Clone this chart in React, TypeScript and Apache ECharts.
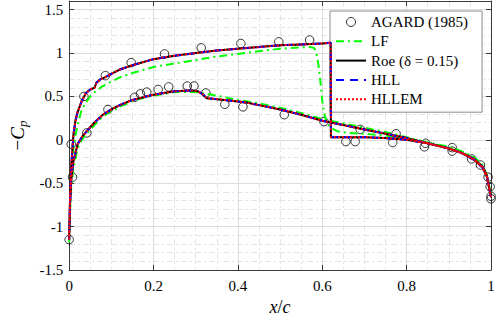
import React, { useEffect, useRef } from "react";
import * as echarts from "echarts";

// ---------- data ----------
// AGARD (1985) experimental points [x/c, -Cp]
const agardPoints: number[][] = [
  [0, -1.15], [0.008, -0.43], [0.005, -0.05], [0.035, 0.5], [0.086, 0.74],
  [0.147, 0.89], [0.226, 0.99], [0.313, 1.06], [0.407, 1.11], [0.497, 1.13],
  [0.57, 1.15],
  [0.042, 0.08], [0.092, 0.35], [0.155, 0.49], [0.169, 0.53], [0.184, 0.55],
  [0.211, 0.58], [0.236, 0.61], [0.28, 0.62], [0.296, 0.62], [0.324, 0.54],
  [0.369, 0.41], [0.412, 0.38], [0.51, 0.29], [0.604, 0.21], [0.69, 0.12],
  [0.775, 0.07], [0.845, -0.04], [0.908, -0.09],
  [0.656, -0.02], [0.678, -0.02], [0.767, -0.03], [0.842, -0.08], [0.908, -0.13],
  [0.954, -0.22], [0.975, -0.29], [0.993, -0.43], [0.998, -0.54], [1.0, -0.65],
  [1.0, -0.68],
];

// Roe (δ = 0.15) – upper surface, leading edge to trailing edge
const roeUpper: number[][] = [
  [0, -1.15], [0.002, -0.7], [0.005, -0.3], [0.01, 0.05], [0.015, 0.22],
  [0.02, 0.32], [0.03, 0.45], [0.04, 0.54], [0.05, 0.58], [0.06, 0.6],
  [0.065, 0.66], [0.075, 0.7], [0.085, 0.72], [0.1, 0.76], [0.12, 0.81],
  [0.15, 0.86], [0.2, 0.93], [0.25, 0.97], [0.3, 1.0], [0.35, 1.03],
  [0.4, 1.05], [0.45, 1.07], [0.5, 1.09], [0.55, 1.1], [0.6, 1.11],
  [0.62, 1.12], [0.6205, 0.03], [0.65, 0.03], [0.7, 0.03], [0.75, 0.02],
  [0.8, 0.0], [0.85, -0.04], [0.9, -0.1], [0.93, -0.15], [0.96, -0.23],
  [0.98, -0.32], [0.99, -0.42], [1.0, -0.66],
];
// Roe – lower surface
const roeLower: number[][] = [
  [0, -1.15], [0.002, -0.75], [0.005, -0.45], [0.01, -0.25], [0.02, -0.05],
  [0.03, 0.03], [0.04, 0.09], [0.06, 0.2], [0.08, 0.29], [0.1, 0.35],
  [0.12, 0.4], [0.15, 0.46], [0.2, 0.52], [0.25, 0.56], [0.29, 0.57],
  [0.305, 0.56], [0.318, 0.52], [0.326, 0.48], [0.368, 0.46], [0.42, 0.43],
  [0.45, 0.4], [0.5, 0.35], [0.55, 0.29], [0.6, 0.22], [0.62, 0.2],
  [0.65, 0.17], [0.7, 0.12], [0.75, 0.07], [0.8, 0.02], [0.85, -0.04],
  [0.9, -0.1], [0.93, -0.15], [0.96, -0.22], [0.98, -0.31], [0.99, -0.41],
  [1.0, -0.66],
];

// HLL and HLLEM lie on top of the Roe curves in the reference
const hllUpper: number[][] = roeUpper;
const hllLower: number[][] = roeLower;
const hllemUpper: number[][] = roeUpper;
const hllemLower: number[][] = roeLower;

// LF – upper surface
const lfUpper: number[][] = [
  [0, -1.18], [0.002, -0.8], [0.005, -0.45], [0.01, -0.1], [0.015, 0.05],
  [0.02, 0.17], [0.03, 0.35], [0.04, 0.43], [0.05, 0.5], [0.06, 0.55],
  [0.08, 0.62], [0.1, 0.67], [0.12, 0.72], [0.15, 0.77], [0.2, 0.84],
  [0.25, 0.88], [0.3, 0.92], [0.35, 0.96], [0.4, 0.99], [0.45, 1.02],
  [0.5, 1.05], [0.55, 1.065], [0.57, 1.07], [0.58, 1.06], [0.585, 1.02],
  [0.59, 0.9], [0.595, 0.7], [0.6, 0.45], [0.605, 0.3], [0.61, 0.2],
  [0.62, 0.14], [0.635, 0.1], [0.66, 0.08], [0.7, 0.07], [0.75, 0.05],
  [0.8, 0.02], [0.85, -0.03], [0.9, -0.08], [0.93, -0.13], [0.96, -0.2],
  [0.98, -0.29], [0.99, -0.4], [1.0, -0.63],
];
// LF – lower surface
const lfLower: number[][] = [
  [0, -1.18], [0.002, -0.85], [0.005, -0.55], [0.01, -0.33], [0.02, -0.1],
  [0.03, 0.0], [0.04, 0.06], [0.06, 0.17], [0.08, 0.27], [0.1, 0.33],
  [0.12, 0.38], [0.15, 0.45], [0.2, 0.51], [0.25, 0.55], [0.3, 0.55],
  [0.35, 0.51], [0.4, 0.46], [0.45, 0.42], [0.5, 0.37], [0.55, 0.31],
  [0.6, 0.24], [0.65, 0.19], [0.7, 0.14], [0.75, 0.09], [0.8, 0.03],
  [0.85, -0.03], [0.9, -0.09], [0.93, -0.14], [0.96, -0.21], [0.98, -0.3],
  [0.99, -0.4], [1.0, -0.63],
];

const xTicks = { min: 0, max: 1, interval: 0.2 };
const yTicks = { min: -1.5, max: 1.6, interval: 0.5 };

const seriesNames = ["AGARD (1985)", "LF", "Roe (δ = 0.15)", "HLL", "HLLEM"];

// ---------- helpers ----------
const loop = (upper: number[][], lower: number[][]) => [
  ...upper.slice().reverse(),
  ...lower.slice(1),
];

const SERIF = "Liberation Serif";

export default function App() {
  const ref = useRef<HTMLDivElement>(null);

  useEffect(() => {
    if (!ref.current) return;
    const chart = echarts.init(ref.current, undefined, { renderer: "svg" });

    const gridCol = "#dcdcdc";
    const axisCol = "#3a3a3a";
    const hideSymbol = { opacity: 0 };
    const frameLine = { show: true, onZero: false, lineStyle: { color: axisCol, width: 1 } };

    const option: any = {
      animation: false,
      backgroundColor: "#ffffff",
      textStyle: { fontFamily: SERIF },
      grid: { left: 57, top: 1, width: 434, height: 269, containLabel: false },
      xAxis: [
        {
          type: "value",
          min: xTicks.min,
          max: xTicks.max,
          interval: xTicks.interval,
          name: "{i|x}{n|/}{i|c}",
          nameLocation: "middle",
          nameGap: 27,
          nameTextStyle: {
            fontFamily: SERIF,
            rich: {
              i: { fontFamily: SERIF, fontSize: 18, fontStyle: "italic", color: "#000" },
              n: { fontFamily: SERIF, fontSize: 18, color: "#000" },
            },
          },
          axisLine: frameLine,
          axisTick: { show: true, inside: true, length: 5, lineStyle: { color: axisCol } },
          axisLabel: { fontFamily: SERIF, fontSize: 15, color: "#000", margin: 8 },
          splitLine: { show: true, lineStyle: { color: gridCol, width: 1 } },
          minorTick: { show: false, splitNumber: 4 },
          minorSplitLine: { show: true, lineStyle: { color: "#e4e4e4", width: 1, type: [6, 3, 2, 3] } },
        },
        {
          type: "value",
          position: "top",
          min: xTicks.min,
          max: xTicks.max,
          interval: xTicks.interval,
          axisLine: frameLine,
          axisTick: { show: true, inside: true, length: 5, lineStyle: { color: axisCol } },
          axisLabel: { show: false },
          splitLine: { show: false },
        },
      ],
      yAxis: [
        {
          type: "value",
          min: yTicks.min,
          max: yTicks.max,
          interval: yTicks.interval,
          name: "{n|−}{i|C}{s|p}",
          nameLocation: "middle",
          nameRotate: 90,
          nameGap: 33,
          nameTextStyle: {
            fontFamily: SERIF,
            rich: {
              n: { fontFamily: SERIF, fontSize: 19, color: "#000", lineHeight: 22, verticalAlign: "middle" },
              i: { fontFamily: SERIF, fontSize: 19, fontStyle: "italic", color: "#000", lineHeight: 22, verticalAlign: "middle" },
              s: { fontFamily: SERIF, fontSize: 13, fontStyle: "italic", color: "#000", lineHeight: 13, verticalAlign: "bottom" },
            },
          },
          axisLine: frameLine,
          axisTick: { show: true, inside: true, length: 5, lineStyle: { color: axisCol } },
          axisLabel: {
            fontFamily: SERIF,
            fontSize: 15,
            color: "#000",
            margin: 6,
            showMaxLabel: false,
          },
          splitLine: { show: true, lineStyle: { color: gridCol, width: 1 } },
          minorTick: { show: false, splitNumber: 5 },
          minorSplitLine: { show: true, lineStyle: { color: "#e4e4e4", width: 1, type: [6, 3, 2, 3] } },
        },
        {
          type: "value",
          position: "right",
          min: yTicks.min,
          max: yTicks.max,
          interval: yTicks.interval,
          axisLine: frameLine,
          axisTick: { show: true, inside: true, length: 5, lineStyle: { color: axisCol } },
          axisLabel: { show: false },
          splitLine: { show: false },
        },
      ],
      legend: {
        orient: "vertical",
        left: 330,
        top: 11,
        backgroundColor: "#ffffff",
        borderColor: "#8c8c8c",
        borderWidth: 1,
        borderRadius: 0,
        padding: [2, 14, 4, 5],
        itemWidth: 30,
        itemHeight: 9,
        itemGap: 1.3,
        textStyle: {
          fontFamily: SERIF,
          fontSize: 15,
          lineHeight: 18,
          color: "#000",
        },
        data: [
          {
            name: seriesNames[0],
            icon: "circle",
            itemStyle: { color: "rgba(255,255,255,0)", borderColor: "#000", borderWidth: 1 },
          },
          { name: seriesNames[1], itemStyle: hideSymbol },
          { name: seriesNames[2], itemStyle: hideSymbol },
          { name: seriesNames[3], itemStyle: hideSymbol },
          { name: seriesNames[4], itemStyle: hideSymbol },
        ],
      },
      series: [
        {
          name: seriesNames[0],
          type: "scatter",
          data: agardPoints,
          symbol: "circle",
          symbolSize: 8.5,
          itemStyle: { color: "rgba(255,255,255,0)", borderColor: "#000", borderWidth: 1 },
          z: 2,
        },
        {
          name: seriesNames[1],
          type: "line",
          data: loop(lfUpper, lfLower),
          showSymbol: false,
          symbol: "none",
          lineStyle: { color: "#00ff00", width: 2, type: [8, 4, 2, 4] },
          itemStyle: { color: "#00ff00" },
          z: 3,
        },
        {
          name: seriesNames[2],
          type: "line",
          data: loop(roeUpper, roeLower),
          showSymbol: false,
          symbol: "none",
          lineStyle: { color: "#000000", width: 2, type: "solid" },
          itemStyle: { color: "#000000" },
          z: 4,
        },
        {
          name: seriesNames[3],
          type: "line",
          data: loop(hllUpper, hllLower),
          showSymbol: false,
          symbol: "none",
          lineStyle: { color: "#0000ff", width: 2, type: [8, 6] },
          itemStyle: { color: "#0000ff" },
          z: 5,
        },
        {
          name: seriesNames[4],
          type: "line",
          data: loop(hllemUpper, hllemLower),
          showSymbol: false,
          symbol: "none",
          lineStyle: { color: "#ff0000", width: 2, type: [2, 2] },
          itemStyle: { color: "#ff0000" },
          z: 6,
        },
      ],
    };

    chart.setOption(option);
    return () => {
      chart.dispose();
    };
  }, []);

  return (
    <div
      ref={ref}
      style={{ position: "absolute", left: 0, top: 0, width: 498, height: 321 }}
    />
  );
}
